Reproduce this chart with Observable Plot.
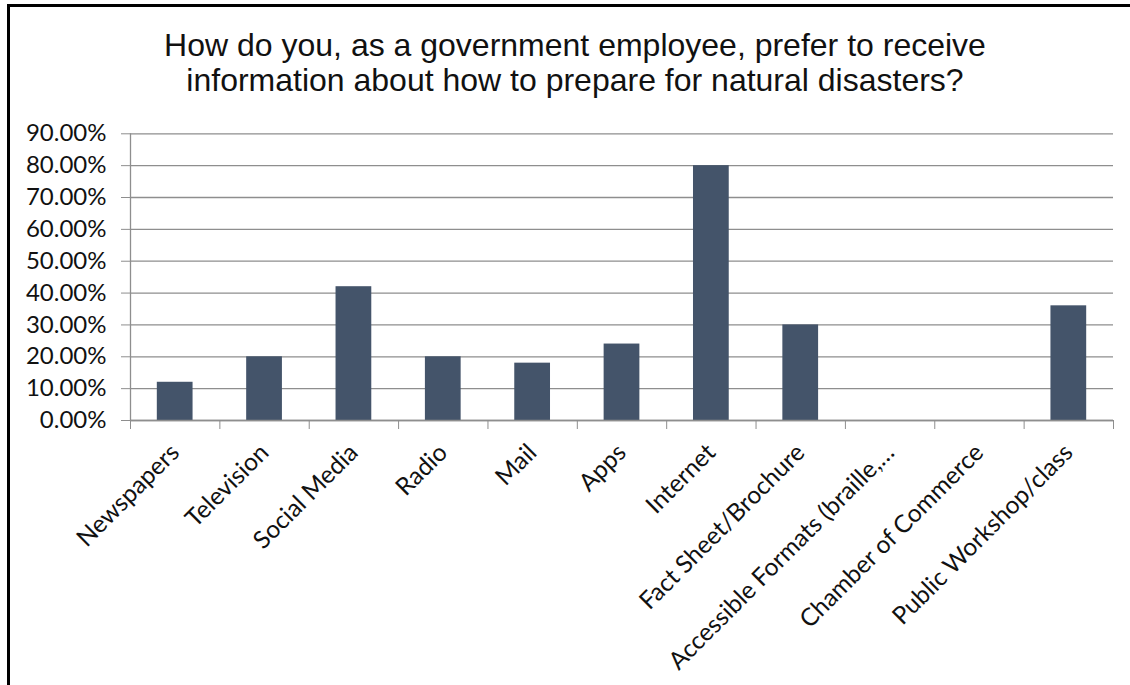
<!DOCTYPE html>
<html>
<head>
<meta charset="utf-8">
<script src="https://cdn.jsdelivr.net/npm/d3@7"></script>
<script src="https://cdn.jsdelivr.net/npm/@observablehq/plot@0.6"></script>
<style>
  html, body { margin: 0; padding: 0; background: #fff; }
  #page { position: relative; width: 1130px; height: 685px; overflow: hidden; background: #fff; }
  #bl { position: absolute; left: 7px; top: 4px; width: 3px; height: 700px; background: #000; }
  #bt { position: absolute; left: 7px; top: 4px; width: 1130px; height: 3px; background: #000; }
  #title { position: absolute; left: 0; top: 28px; width: 1150px; text-align: center;
           font-family: "Liberation Sans", Arial, sans-serif; font-size: 32px; line-height: 35px; color: #111; }
  #chart { position: absolute; left: 0; top: 112px; }
</style>
</head>
<body>
<div id="page">
  <div id="title">How do you, as a government employee, prefer to receive<br>information about how to prepare for natural disasters?</div>
  <div id="chart"></div>
  <div id="bl"></div>
  <div id="bt"></div>
</div>
<script>
const categories = ["Newspapers", "Television", "Social Media", "Radio", "Mail", "Apps", "Internet",
  "Fact Sheet/Brochure", "Accessible Formats (braille,\u2026", "Chamber of Commerce", "Public Workshop/class"];
const values = [0.12, 0.20, 0.42, 0.20, 0.18, 0.24, 0.80, 0.30, 0, 0, 0.36];
const yTicks = [0, 0.1, 0.2, 0.3, 0.4, 0.5, 0.6, 0.7, 0.8, 0.9];

const data = categories.map((c, i) => ({category: c, index: i, value: values[i]}));
const gridColor = "#8e8e8e";
const axisFont = "Lato, 'Open Sans', sans-serif";

const chart = Plot.plot({
  width: 1130,
  height: 573,
  marginLeft: 130,
  marginRight: 17,
  marginTop: 21.3,
  marginBottom: 265,
  style: {background: "transparent", color: "#111", fontFamily: axisFont},
  x: {type: "linear", domain: [0, categories.length], label: null},
  y: {domain: [0, 0.9], label: null},
  marks: [
    Plot.gridY(yTicks, {stroke: gridColor, strokeOpacity: 1, strokeWidth: 1.3}),
    Plot.ruleX([0], {y1: 0, y2: 0.9, stroke: gridColor, strokeWidth: 1.3}),
    Plot.rectY(data, {x1: d => d.index + 0.3, x2: d => d.index + 0.7, y: "value", fill: "#44546A"}),
    Plot.ruleY([0], {stroke: gridColor, strokeWidth: 1.3}),
    Plot.axisY(yTicks, {tickFormat: d3.format(".2%"), tickSize: 9, tickPadding: 15, stroke: gridColor,
      fontSize: 24, fontFamily: axisFont, fill: "#111", label: null}),
    Plot.axisX(d3.range(categories.length + 1), {tickSize: 9, tickFormat: () => "", stroke: gridColor, label: null}),
    Plot.axisX(data.map(d => d.index + 0.5), {tickSize: 0, tickPadding: 28, tickRotate: -45, label: null,
      tickFormat: d => categories[Math.floor(d)], fontSize: 24.5, fontFamily: axisFont, fill: "#111"})
  ]
});
document.getElementById("chart").appendChild(chart);
</script>
</body>
</html>
